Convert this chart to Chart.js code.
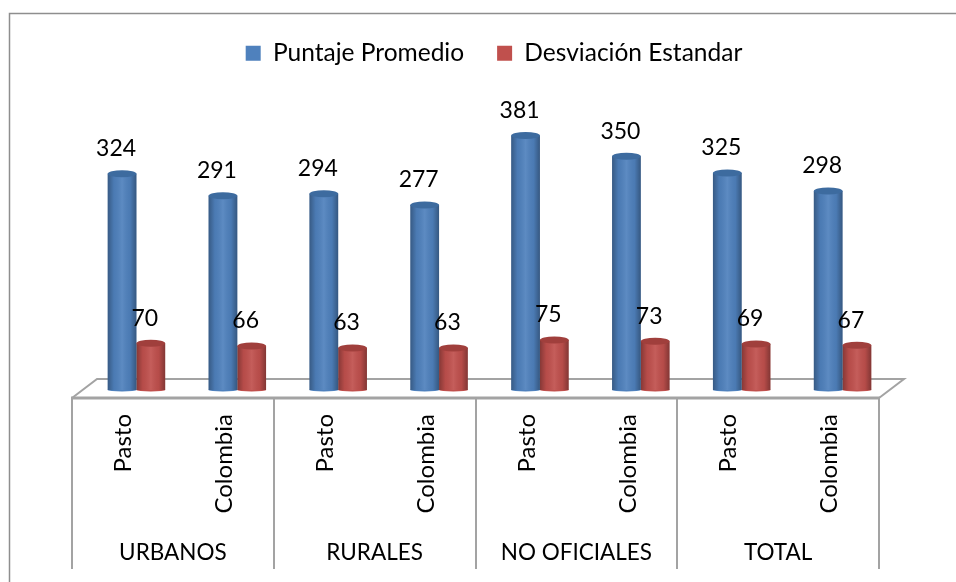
<!DOCTYPE html>
<html><head><meta charset="utf-8">
<style>html,body{margin:0;padding:0;background:#fff}#w{width:956px;height:582px}canvas{display:block}</style>
<script src="https://cdn.jsdelivr.net/npm/chart.js@4"></script></head>
<body><div id="w"><canvas id="c" width="956" height="582"></canvas></div>
<script>
const categories = ["Pasto","Colombia","Pasto","Colombia","Pasto","Colombia","Pasto","Colombia"];
const groups = ["URBANOS","RURALES","NO OFICIALES","TOTAL"];
const puntajePromedio = [324,291,294,277,381,350,325,298];
const desviacionEstandar = [70,66,63,63,75,73,69,67];
const FONT = "Lato, Carlito, sans-serif";
const GRAY = "#a3a3a3";

const decor = {
  id:"decor",
  beforeDraw(chart){
    const g = chart.ctx;
    g.save();
    g.fillStyle="#fff"; g.fillRect(0,0,chart.width,chart.height);
    g.strokeStyle="#8e8e8e"; g.lineWidth=1.5;
    g.beginPath(); g.moveTo(9.5,582); g.lineTo(9.5,13.5); g.lineTo(956,13.5); g.stroke();
    g.restore();
  },
  beforeDatasetsDraw(chart){
    const g = chart.ctx, x = chart.scales.x, b = chart.chartArea.bottom;
    const step = x.getPixelForValue(1)-x.getPixelForValue(0);
    const L = x.getPixelForValue(0)-step/2-14;
    const R = L+step*8;
    g.save();
    g.strokeStyle=GRAY; g.lineWidth=2;
    g.beginPath();
    g.moveTo(L,b+8); g.lineTo(L+25,b-11); g.lineTo(R+25,b-11); g.lineTo(R,b+8);
    g.stroke();
    g.lineWidth=3;
    g.beginPath(); g.moveTo(L-1,b+8); g.lineTo(R+1,b+8); g.stroke();
    g.lineWidth=2;
    for(let i=0;i<=groups.length;i++){
      const px=Math.round(L+i*2*step);
      g.beginPath(); g.moveTo(px,b+8); g.lineTo(px,569); g.stroke();
    }
    g.fillStyle="#000"; g.font="22.5px "+FONT; g.textAlign="center"; g.textBaseline="middle";
    groups.forEach((t,i)=>g.fillText(t,L+(i*2+1)*step,553));
    g.restore();
  },
  afterDatasetsDraw(chart){
    const g = chart.ctx;
    const caps=["#3d6b9f","#a03f3c"];
    chart.data.datasets.forEach((ds,d)=>{
      chart.getDatasetMeta(d).data.forEach((el,i)=>{
        const w=el.width, l=el.x-w/2, r=el.x+w/2, y=el.y, b=el.base;
        const s=g.createLinearGradient(l,0,r,0);
        s.addColorStop(0,"rgba(0,0,0,.30)");
        s.addColorStop(.22,"rgba(0,0,0,.05)");
        s.addColorStop(.5,"rgba(255,255,255,.08)");
        s.addColorStop(.78,"rgba(0,0,0,.05)");
        s.addColorStop(1,"rgba(0,0,0,.32)");
        g.save();
        g.fillStyle=ds.backgroundColor;
        g.beginPath(); g.ellipse(el.x,b,w/2,1.5,0,0,Math.PI*2); g.fill();
        g.fillStyle=s;
        g.fillRect(l,y,w,b-y);
        g.fillStyle=caps[d];
        g.beginPath(); g.ellipse(el.x,y,w/2,3.5,0,0,Math.PI*2); g.fill();
        g.restore();
      });
    });
    g.save();
    g.fillStyle="#000"; g.font="23px "+FONT; g.textAlign="center"; g.textBaseline="middle";
    chart.data.datasets.forEach((ds,d)=>{
      chart.getDatasetMeta(d).data.forEach((el,i)=>{
        g.fillText(String(ds.data[i]),el.x-6,el.y-25);
      });
    });
    g.restore();
  }
};

new Chart(document.getElementById("c"),{
  type:"bar",
  data:{labels:categories,datasets:[
    {label:"Puntaje Promedio",data:puntajePromedio,backgroundColor:"#4F81BD",categoryPercentage:.57,barPercentage:1,borderWidth:0},
    {label:"Desviación Estandar",data:desviacionEstandar,backgroundColor:"#C0504D",categoryPercentage:.57,barPercentage:1,borderWidth:0}
  ]},
  options:{
    responsive:false,animation:false,
    layout:{padding:{left:86,right:54,top:8,bottom:0}},
    plugins:{
      tooltip:{enabled:false},
      legend:{position:"top",align:"center",labels:{boxWidth:15,boxHeight:15,padding:33,color:"#000",font:{family:FONT,size:24.5}}}
    },
    scales:{
      x:{
        offset:true,
        grid:{display:false,drawTicks:false},border:{display:false},
        ticks:{autoSkip:false,minRotation:90,maxRotation:90,padding:24,labelOffset:-13,color:"#000",font:{family:FONT,size:24}},
        afterFit(s){s.height=192;}
      },
      y:{
        position:"right",min:0,max:471,
        grid:{display:false},border:{display:false},
        ticks:{display:false},
        afterFit(s){s.width=9;}
      }
    }
  },
  plugins:[decor]
});
</script></body></html>
